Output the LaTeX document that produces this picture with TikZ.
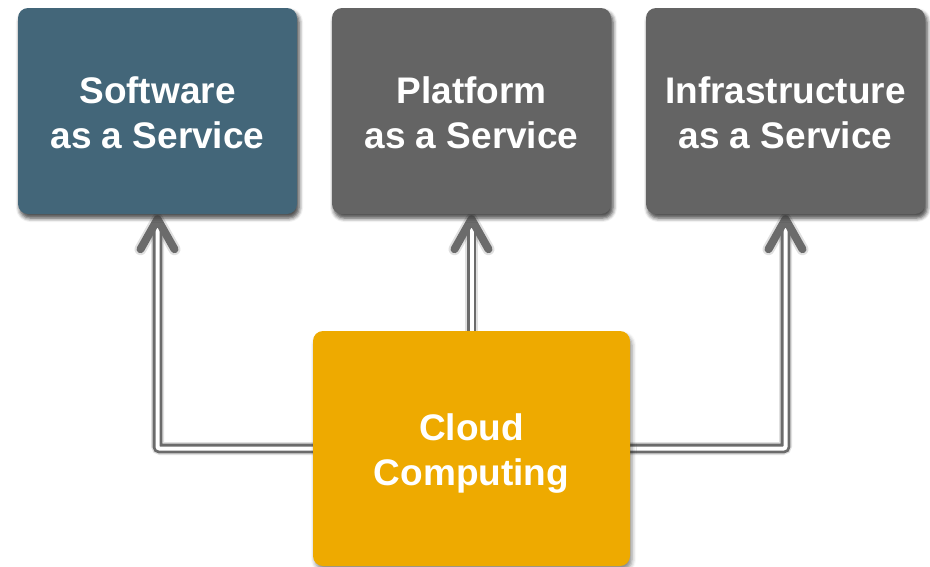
\documentclass[tikz,border=0pt]{standalone}
\usepackage{fontspec}
\setmainfont{Liberation Sans}
\usetikzlibrary{shadows.blur}

\definecolor{saasblue}{RGB}{67,102,121}
\definecolor{boxgray}{RGB}{100,100,100}
\definecolor{cloudgold}{RGB}{238,170,0}
\definecolor{linkgray}{RGB}{107,107,107}

\begin{document}
\begin{tikzpicture}[x=1pt,y=-1pt,
  svcbox/.style={rectangle, rounded corners=10pt, inner sep=0pt,
    minimum width=279pt, minimum height=206pt,
    blur shadow={shadow xshift=2pt, shadow yshift=-4pt,
      shadow blur radius=4pt, shadow opacity=45}},
  cloudbox/.style={svcbox, fill=cloudgold, minimum width=317pt, minimum height=235pt},
  boxtext/.style={text=white, align=center, inner sep=0pt,
    font=\fontsize{37}{45}\selectfont\bfseries},
  link/.style={draw=linkgray, line width=2.8pt, double=white,
    double distance=4pt, rounded corners=2pt},
  linkshade/.style={draw=black, opacity=0.12, line width=13pt,
    rounded corners=3pt, line cap=round},
  tiphead/.style={draw=linkgray, line width=8pt, line cap=round, line join=round},
  tipshade/.style={draw=black, opacity=0.12, line width=12pt, line cap=round, line join=round}
]
\useasboundingbox (0,0) rectangle (930,566);

% reference frame of the boxes (drawn later, named here for the links)
\path (157.5,111) node[svcbox, minimum width=279pt, minimum height=206pt] (saas) {}
      (471.5,111) node[svcbox] (paas) {}
      (785.5,111) node[svcbox] (iaas) {}
      (471.5,448.5) node[cloudbox, draw=none, fill=none, blur shadow={shadow opacity=0}] (cloud) {};

% soft shadows under the links
\begin{scope}[shift={(2,4)}]
  \draw[linkshade] ([xshift=10pt]cloud.west) -| ([yshift=-14pt]saas.south);
  \draw[linkshade] ([xshift=-10pt]cloud.east) -| ([yshift=-14pt]iaas.south);
  \draw[linkshade] ([yshift=-10pt]cloud.north) -- ([yshift=-14pt]paas.south);
  \foreach \b in {saas,paas,iaas}
    \draw[tipshade] ([shift={(-17,35)}]\b.south) -- ([shift={(0,5)}]\b.south) -- ([shift={(17,35)}]\b.south);
\end{scope}

% double-line links from the cloud to each service
\draw[link] ([xshift=10pt]cloud.west) -| ([yshift=-12pt]saas.south);
\draw[link] ([xshift=-10pt]cloud.east) -| ([yshift=-12pt]iaas.south);
\draw[link] ([yshift=-10pt]cloud.north) -- ([yshift=-12pt]paas.south);

% open chevron heads
\foreach \b in {saas,paas,iaas}
  \draw[tiphead] ([shift={(-17,35)}]\b.south) -- ([shift={(0,5)}]\b.south) -- ([shift={(17,35)}]\b.south);

% the boxes
\node[svcbox, fill=saasblue] at (saas) {};
\node[svcbox, fill=boxgray] at (paas) {};
\node[svcbox, fill=boxgray] at (iaas) {};
\node[cloudbox] at (cloud) {};

% labels (base anchor sits on the last line)
\node[boxtext, anchor=base] (saas-t) at (157.5,148) {Software\\as a Service};
\node[boxtext, anchor=base] (paas-t) at (471.5,148) {Platform\\as a Service};
\node[boxtext, anchor=base] (iaas-t) at (785.5,148) {Infrastructure\\as a Service};
\node[boxtext, anchor=base] (cloud-t) at (471.5,485) {Cloud\\Computing};
\end{tikzpicture}
\end{document}
